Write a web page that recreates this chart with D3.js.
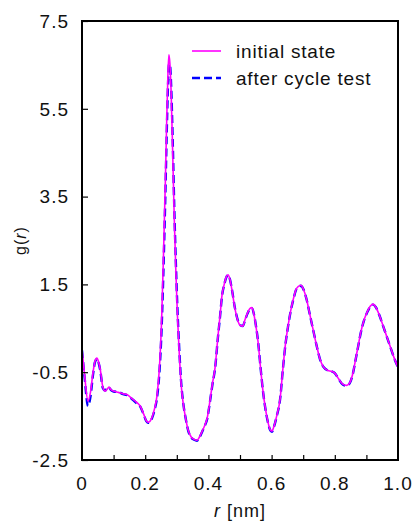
<!DOCTYPE html>
<html>
<head>
<meta charset="utf-8">
<script src="https://cdn.jsdelivr.net/npm/d3@7"></script>
<style>
  body { margin: 0; padding: 0; background: #fff; }
  text { font-family: 'Liberation Sans', Arial, sans-serif; fill: #111; }
</style>
</head>
<body>
<div id="main"></div>
<script>
// r values (nm)
const rValues = [
    0.000, 0.008, 0.019, 0.027, 0.035, 0.041, 0.047, 0.053, 0.058, 0.066,
    0.073, 0.080, 0.086, 0.092, 0.100, 0.115, 0.130, 0.142, 0.158, 0.172,
    0.184, 0.195, 0.203, 0.209, 0.215, 0.222, 0.230, 0.237, 0.245, 0.252,
    0.258, 0.264, 0.268, 0.272, 0.275, 0.278, 0.282, 0.287, 0.292, 0.297,
    0.302, 0.308, 0.314, 0.320, 0.328, 0.336, 0.345, 0.355, 0.364, 0.372,
    0.380, 0.388, 0.396, 0.405, 0.413, 0.421, 0.430, 0.437, 0.443, 0.450,
    0.456, 0.462, 0.468, 0.475, 0.484, 0.492, 0.500, 0.509, 0.516, 0.524,
    0.531, 0.538, 0.545, 0.551, 0.557, 0.565, 0.573, 0.581, 0.588, 0.595,
    0.601, 0.608, 0.616, 0.627, 0.636, 0.644, 0.652, 0.661, 0.670, 0.677,
    0.684, 0.693, 0.700, 0.710, 0.720, 0.731, 0.742, 0.753, 0.764, 0.778,
    0.790, 0.800, 0.812, 0.825, 0.838, 0.848, 0.858, 0.866, 0.874, 0.882,
    0.893, 0.903, 0.912, 0.921, 0.930, 0.942, 0.953, 0.965, 0.977, 0.988,
    1.000
];

const gInitial = [
    0.02, -0.55, -1.16, -0.95, -0.50, -0.25, -0.18, -0.28, -0.45, -0.84,
    -0.93, -0.88, -0.84, -0.90, -0.93, -0.96, -0.99, -1.01, -1.10, -1.18,
    -1.27, -1.45, -1.60, -1.64, -1.62, -1.52, -1.32, -1.05, -0.40, 0.70,
    2.20, 3.90, 5.20, 6.30, 6.73, 6.55, 5.90, 4.50, 3.00, 1.80,
    0.80, -0.10, -0.80, -1.20, -1.55, -1.82, -1.97, -2.03, -2.05, -1.97,
    -1.85, -1.72, -1.55, -1.15, -0.75, -0.40, 0.30, 0.80, 1.25, 1.50,
    1.66, 1.72, 1.62, 1.35, 0.95, 0.70, 0.57, 0.55, 0.70, 0.85,
    0.95, 0.97, 0.78, 0.52, 0.20, -0.40, -0.95, -1.35, -1.62, -1.80,
    -1.84, -1.72, -1.50, -1.10, -0.40, 0.15, 0.55, 0.92, 1.20, 1.38,
    1.45, 1.48, 1.40, 1.18, 0.85, 0.48, 0.12, -0.20, -0.38, -0.46,
    -0.48, -0.52, -0.65, -0.77, -0.80, -0.73, -0.50, -0.20, 0.10, 0.40,
    0.70, 0.88, 1.00, 1.05, 0.98, 0.78, 0.55, 0.30, 0.05, -0.18,
    -0.39
];

const gCycle = [
    0.00, -0.60, -1.27, -1.05, -0.55, -0.27, -0.20, -0.30, -0.47, -0.86,
    -0.92, -0.86, -0.85, -0.91, -0.94, -0.95, -1.00, -1.02, -1.11, -1.20,
    -1.28, -1.46, -1.61, -1.65, -1.63, -1.54, -1.35, -1.10, -0.50, 0.50,
    1.90, 3.60, 4.90, 6.00, 6.50, 6.52, 6.05, 4.80, 3.25, 2.00,
    0.95, 0.00, -0.75, -1.18, -1.55, -1.83, -1.98, -2.04, -2.06, -1.98,
    -1.86, -1.73, -1.57, -1.17, -0.77, -0.42, 0.28, 0.78, 1.23, 1.49,
    1.65, 1.71, 1.62, 1.36, 0.96, 0.71, 0.58, 0.55, 0.69, 0.84,
    0.94, 0.96, 0.79, 0.53, 0.21, -0.39, -0.95, -1.36, -1.63, -1.81,
    -1.86, -1.73, -1.51, -1.11, -0.41, 0.14, 0.54, 0.91, 1.19, 1.37,
    1.44, 1.47, 1.40, 1.18, 0.85, 0.48, 0.12, -0.20, -0.38, -0.46,
    -0.48, -0.52, -0.65, -0.78, -0.81, -0.74, -0.51, -0.21, 0.09, 0.39,
    0.69, 0.87, 0.99, 1.04, 0.98, 0.78, 0.55, 0.30, 0.05, -0.18,
    -0.39
];

const xTickValues = [0, 0.2, 0.4, 0.6, 0.8, 1.0];
const xTickLabels = ['0', '0.2', '0.4', '0.6', '0.8', '1.0'];
const xMinorTicks = [0.1, 0.2, 0.3, 0.4, 0.5, 0.6, 0.7, 0.8, 0.9];
const yTickValues = [-2.5, -0.5, 1.5, 3.5, 5.5, 7.5];
const yTickLabels = ['-2.5', '-0.5', '1.5', '3.5', '5.5', '7.5'];
const seriesNames = ['initial state', 'after cycle test'];

const WIDTH = 414, HEIGHT = 523;
const margin = { top: 21, right: 16, bottom: 63, left: 82 };
const plotW = WIDTH - margin.left - margin.right;
const plotH = HEIGHT - margin.top - margin.bottom;

const svg = d3.select('#main').append('svg')
    .attr('width', WIDTH).attr('height', HEIGHT);

const x = d3.scaleLinear().domain([0, 1]).range([margin.left, margin.left + plotW]);
const y = d3.scaleLinear().domain([-2.5, 7.5]).range([margin.top + plotH, margin.top]);

svg.append('clipPath').attr('id', 'plot-clip')
    .append('rect')
    .attr('x', margin.left).attr('y', margin.top)
    .attr('width', plotW).attr('height', plotH);

const line = (vals) => d3.line()
    .x((d, i) => x(rValues[i]))
    .y((d) => y(d))
    .curve(d3.curveMonotoneX)(vals);

const curves = svg.append('g').attr('clip-path', 'url(#plot-clip)');
curves.append('path')
    .attr('d', line(gCycle))
    .attr('fill', 'none')
    .attr('stroke', '#0000ff')
    .attr('stroke-width', 2.4)
    .attr('stroke-dasharray', '8,4');
curves.append('path')
    .attr('d', line(gInitial))
    .attr('fill', 'none')
    .attr('stroke', '#ff00ff')
    .attr('stroke-width', 1.6);

// inner ticks
const yAxis = d3.axisLeft(y).tickValues(yTickValues).tickSize(-6).tickFormat('');
svg.append('g').attr('transform', `translate(${margin.left},0)`).call(yAxis)
    .call(g => g.select('.domain').remove())
    .selectAll('line').attr('stroke', '#000').attr('stroke-width', 1.2);

const xAxis = d3.axisBottom(x).tickValues(xMinorTicks).tickSize(-5).tickFormat('');
svg.append('g').attr('transform', `translate(0,${margin.top + plotH})`).call(xAxis)
    .call(g => g.select('.domain').remove())
    .selectAll('line').attr('stroke', '#000').attr('stroke-width', 1.2);

svg.append('rect')
    .attr('x', margin.left).attr('y', margin.top)
    .attr('width', plotW).attr('height', plotH)
    .attr('fill', 'none').attr('stroke', '#000').attr('stroke-width', 2);

// tick labels
svg.append('g').selectAll('text').data(yTickValues).enter().append('text')
    .attr('x', margin.left - 13)
    .attr('y', (d) => y(d))
    .attr('dy', '0.36em')
    .attr('text-anchor', 'end')
    .attr('font-size', 19)
    .attr('letter-spacing', 1)
    .text((d, i) => yTickLabels[i]);

svg.append('g').selectAll('text').data(xTickValues).enter().append('text')
    .attr('x', (d) => x(d))
    .attr('y', 490)
    .attr('text-anchor', 'middle')
    .attr('font-size', 19)
    .attr('letter-spacing', 1)
    .text((d, i) => xTickLabels[i]);

// axis titles
const yTitle = svg.append('text')
    .attr('transform', `translate(26,${margin.top + plotH / 2}) rotate(-90)`)
    .attr('text-anchor', 'middle')
    .attr('font-size', 16)
    .attr('letter-spacing', 1);
yTitle.append('tspan').text('g(');
yTitle.append('tspan').attr('font-style', 'italic').text('r');
yTitle.append('tspan').text(')');

const xTitle = svg.append('text')
    .attr('x', margin.left + plotW / 2)
    .attr('y', 517)
    .attr('text-anchor', 'middle')
    .attr('font-size', 18)
    .attr('letter-spacing', 1);
xTitle.append('tspan').attr('font-style', 'italic').text('r');
xTitle.append('tspan').text(' [nm]');

// legend
const legend = svg.append('g').attr('id', 'legend');
const legendStyles = [
    { color: '#ff00ff', width: 1.6, dash: null },
    { color: '#0000ff', width: 2.4, dash: '8,4' }
];
legend.selectAll('line').data(seriesNames).enter().append('line')
    .attr('x1', 192).attr('x2', 221)
    .attr('y1', (d, i) => 51 + i * 27).attr('y2', (d, i) => 51 + i * 27)
    .attr('stroke', (d, i) => legendStyles[i].color)
    .attr('stroke-width', (d, i) => legendStyles[i].width)
    .attr('stroke-dasharray', (d, i) => legendStyles[i].dash);
legend.selectAll('text').data(seriesNames).enter().append('text')
    .attr('x', 236)
    .attr('y', (d, i) => 58 + i * 27)
    .attr('font-size', 19)
    .attr('letter-spacing', 0.8)
    .text((d) => d);
</script>
</body>
</html>
